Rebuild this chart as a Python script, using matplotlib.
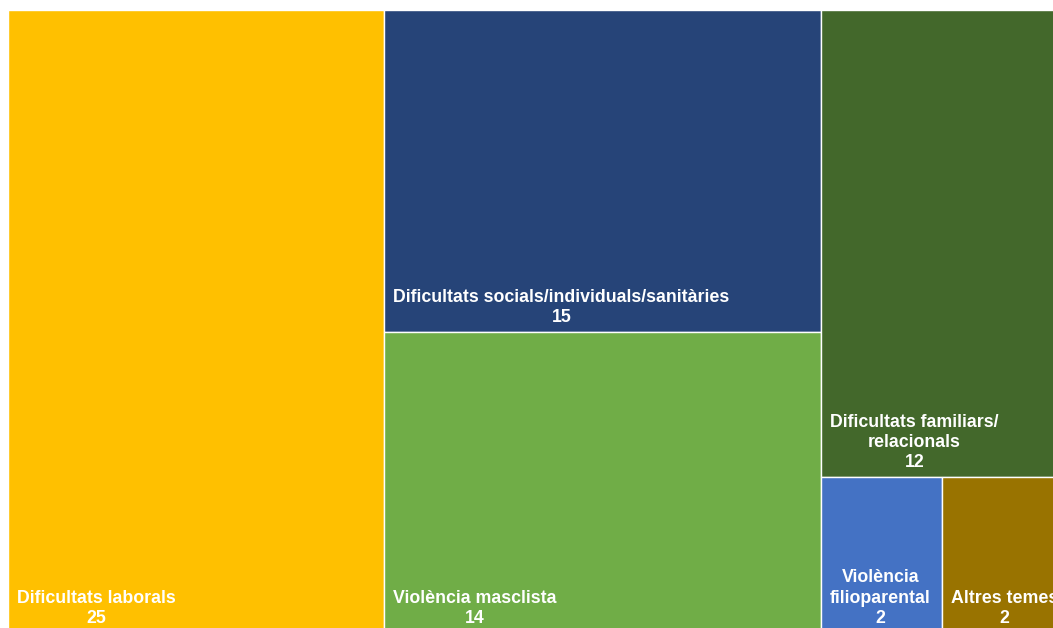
import numpy as np
import matplotlib.pyplot as plt
from matplotlib.patches import Rectangle

plt.rcParams['font.family'] = ['Liberation Sans', 'DejaVu Sans']

# dades del treemap
categories = ['Dificultats laborals',
              'Dificultats socials/individuals/sanitàries',
              'Violència masclista',
              'Dificultats familiars/\nrelacionals',
              'Violència\nfilioparental',
              'Altres temes']
values = [25, 15, 14, 12, 2, 2]
colors = ['#FFC000', '#264478', '#70AD47', '#43682B', '#4472C4', '#997300']

# agrupació en columnes (índexs de categories); l'última columna té una fila de dos
columns = [[0], [1, 2], [3, (4, 5)]]


def cell_value(item):
    if isinstance(item, tuple):
        return sum(values[i] for i in item)
    return values[item]


def layout(total_w=1.0, total_h=1.0):
    total = sum(values)
    rects = {}
    x = 0.0
    for col in columns:
        col_sum = sum(cell_value(it) for it in col)
        w = total_w * col_sum / total
        y = total_h
        for it in col:
            h = total_h * cell_value(it) / col_sum
            y -= h
            if isinstance(it, tuple):
                sub_sum = cell_value(it)
                xx = x
                for i in it:
                    ww = w * values[i] / sub_sum
                    rects[i] = (xx, y, ww, h)
                    xx += ww
            else:
                rects[it] = (x, y, w, h)
        x += w
    return rects


fig = plt.figure(figsize=(10.53, 6.28), dpi=100)
# el gràfic original queda retallat per la dreta i per baix
ax = fig.add_axes([8 / 1053, -5 / 628, 1054 / 1053, 623 / 628])
ax.set_xlim(0, 1)
ax.set_ylim(0, 1)
ax.axis('off')

rects = layout()
pad_x = 9 / 1054
pad_y = 6 / 623
for i, (x, y, w, h) in rects.items():
    ax.add_patch(Rectangle((x, y), w, h, facecolor=colors[i],
                           edgecolor='white', linewidth=1))
    ax.text(x + pad_x, y + pad_y, f'{categories[i]}\n{values[i]}',
            ha='left', va='bottom', multialignment='center',
            color='white', fontsize=12.8, fontweight='bold',
            linespacing=1.25, clip_on=False)

plt.savefig('out.png', dpi=100)
plt.close()
